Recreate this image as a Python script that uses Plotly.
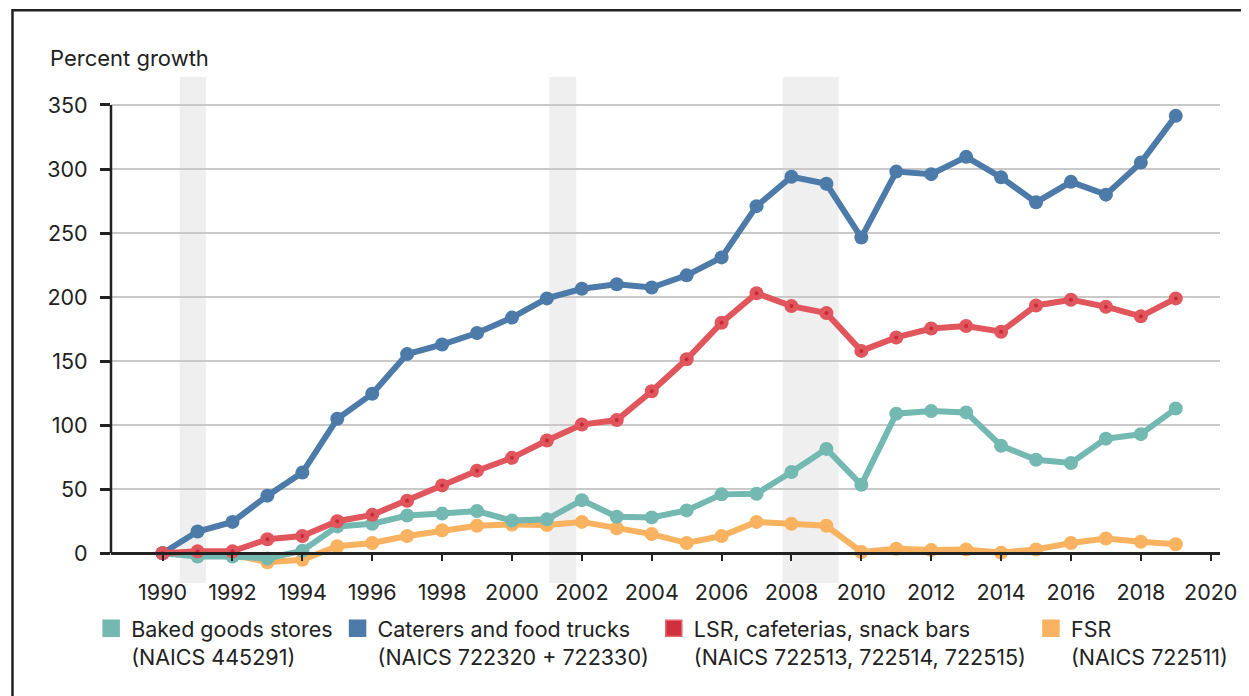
import plotly.graph_objects as go

years = list(range(1990, 2020))
baked = [0, -2.5, -2.5, -4, 2, 21, 23, 29.5, 31, 33, 25.5, 26.5, 41.5, 28.5, 28, 33.5,
         46, 46.5, 63.5, 81.5, 53.5, 109, 111, 110, 84, 73, 70.5, 89.5, 93, 113]
caterers = [0, 17, 24.5, 45, 63, 105, 124.5, 155.5, 163, 172, 184, 199, 206.5, 210, 207.5, 217,
            231, 271, 294, 288.5, 246.5, 298, 296, 309.5, 293.5, 274, 290, 280, 305, 341.5]
lsr = [0, 1.5, 1.5, 11, 13.5, 25, 30, 41, 53, 64.5, 74.5, 88, 100.5, 104, 126.5, 151.5,
       180, 203, 193, 187.5, 158, 168.5, 175.5, 177.5, 173, 193.5, 198, 192.5, 185, 199]
fsr = [0, 0, -1, -7, -5, 5.5, 8, 13.5, 18, 21.5, 22.5, 22, 24.5, 19.5, 15, 8,
       13.5, 24.5, 23, 21.5, 1, 3.5, 2.5, 3, 0.5, 3, 8, 11.5, 9, 7]

recessions = [(1990.49, 1991.24), (2001.07, 2001.84), (2007.75, 2009.35)]

legend_names = [
    "Baked goods stores<br>(NAICS 445291)",
    "Caterers and food trucks<br>(NAICS 722320 + 722330)",
    "LSR, cafeterias, snack bars<br>(NAICS 722513, 722514, 722515)",
    "FSR<br>(NAICS 722511)",
]
line_colors = ["#74b8b2", "#4c7aa9", "#e0565c", "#f9b25f"]
legend_fill = ["#74b8b2", "#4c7aa9", "#d22f3e", "#f9b25f"]
legend_edge = ["#74b8b2", "#4c7aa9", "#e3646a", "#f9b25f"]

FONT = "Inter"
TXT = "#222222"

fig = go.Figure()

# legend-only entries (square swatches)
for name, fc, ec in zip(legend_names, legend_fill, legend_edge):
    fig.add_trace(go.Scatter(
        x=[None], y=[None], mode="markers", name=name,
        marker=dict(symbol="square", size=16, color=fc, line=dict(color=ec, width=1.5)),
        showlegend=True, hoverinfo="skip"))

series = [(fsr, line_colors[3]), (baked, line_colors[0]),
          (caterers, line_colors[1]), (lsr, line_colors[2])]
for vals, col in series:
    fig.add_trace(go.Scatter(
        x=years, y=vals, mode="lines+markers", showlegend=False,
        line=dict(color=col, width=6),
        marker=dict(color=col, size=14)))

# dark centre dots on LSR markers
fig.add_trace(go.Scatter(x=years, y=lsr, mode="markers", showlegend=False,
                         marker=dict(color="#c92a3a", size=4), hoverinfo="skip"))

shapes = []
for x0, x1 in recessions:
    shapes.append(dict(type="rect", xref="x", yref="paper", x0=x0, x1=x1, y0=0, y1=1,
                       fillcolor="#efefef", line=dict(width=0), layer="below"))
# y axis line from 0 to 350
shapes.append(dict(type="line", xref="paper", yref="y", x0=0, x1=0, y0=0, y1=350,
                   line=dict(color=TXT, width=2.5), layer="above"))
# outer frame
shapes.append(dict(type="rect", xref="paper", yref="paper",
                   x0=(12.3 - 111) / 1111, x1=1.05, y0=-0.3, y1=(583 - 10.3) / 506,
                   line=dict(color=TXT, width=2.5), fillcolor="rgba(0,0,0,0)", layer="above"))

y_lo, y_hi = -23.2, 371.85
fig.update_layout(
    width=1241, height=688,
    margin=dict(l=103, r=27, t=69, b=113),
    paper_bgcolor="white", plot_bgcolor="white",
    font=dict(family=FONT, color=TXT, size=21.5),
    shapes=shapes,
    showlegend=True,
    legend=dict(orientation="h", x=-0.0179, xanchor="left", y=-0.049, yanchor="top",
                font=dict(size=21.5, color=TXT, family=FONT), valign="top",
                bgcolor="rgba(0,0,0,0)", itemclick=False, tracegroupgap=0),
    xaxis=dict(range=[1988.523, 2020.266], anchor="free",
               position=(0 - y_lo) / (y_hi - y_lo),
               showline=True, linecolor=TXT, linewidth=3,
               ticks="outside", ticklen=6, tickwidth=2, tickcolor=TXT,
               tick0=1990, dtick=2, showgrid=False, zeroline=False,
               ticklabelstandoff=13,
               tickfont=dict(size=21.5, color=TXT, family=FONT)),
    yaxis=dict(range=[y_lo, y_hi], showline=False,
               tickvals=[0, 50, 100, 150, 200, 250, 300, 350],
               ticks="outside", ticklen=10, tickwidth=2.5, tickcolor=TXT,
               showgrid=True, gridcolor="#c9c9c9", gridwidth=1.5, zeroline=False,
               ticklabelstandoff=8,
               tickfont=dict(size=21.5, color=TXT, family=FONT)),
    annotations=[dict(text="Percent growth", xref="paper", yref="paper",
                      x=(48 - 111) / 1111, y=(583 - 58) / 506, xanchor="left",
                      yanchor="middle", showarrow=False,
                      font=dict(size=22, color=TXT, family=FONT))],
)

fig.write_html("out.html")
